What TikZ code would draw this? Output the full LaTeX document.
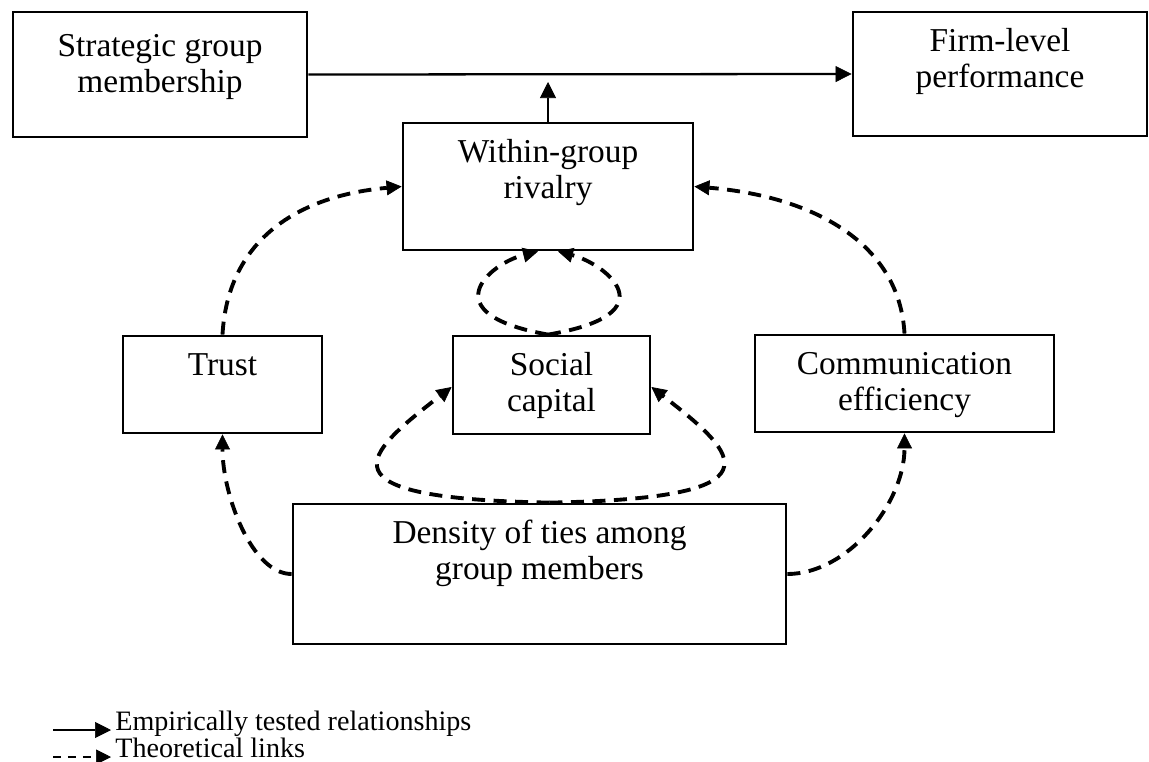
\documentclass[tikz,border=0pt]{standalone}
\usepackage{fontspec}
\setmainfont{Liberation Serif}
\usetikzlibrary{arrows.meta}
\newlength{\unitpx}
\setlength{\unitpx}{0.02cm}
\newcommand{\blocktext}[4][39]{\parbox[c][#3\unitpx][t]{#2\unitpx}{\centering\rule{0pt}{#1\unitpx}#4}}

\begin{document}
\begin{tikzpicture}
	[x=0.02cm,y=-0.02cm,
	blk/.style={draw, line width=1.6pt, inner sep=0pt, font=\fontsize{19}{21}\selectfont},
	legtext/.style={inner sep=0pt, font=\fontsize{16}{18}\selectfont}]
	\tikzstyle{solidarrow} = [line width=1.3pt, -{Triangle[length=0.32cm,width=0.32cm,line width=0.4pt]}];
	\tikzstyle{dasharrow} = [line width=2.2pt, dash pattern=on 0.26cm off 0.17cm, -{Triangle[length=0.3cm,width=0.3cm,line width=0.4pt]}];
	\tikzstyle{legdash} = [line width=1.3pt, dash pattern=on 0.16cm off 0.14cm, -{Triangle[length=0.3cm,width=0.3cm,line width=0.4pt]}];

	\useasboundingbox (0,0) rectangle (1149,761);

	\node[blk] (strat) at (160,74.5) {\blocktext[44]{294}{125}{Strategic group\\membership}};
	\node[blk] (firm) at (1000,74) {\blocktext{294}{124}{Firm-level\\performance}};
	\node[blk] (rival) at (548,186.5) {\blocktext{290}{127}{Within-group\\rivalry}};
	\node[blk] (trust) at (222.5,384.5) {\blocktext{199}{97}{Trust}};
	\node[blk] (social) at (551.5,385) {\blocktext{197}{98}{Social\\capital}};
	\node[blk] (comm) at (904.5,383.5) {\blocktext{299}{97}{Communication\\efficiency}};
	\node[blk] (dens) at (539.5,574) {\blocktext{493}{140}{Density of ties among\\group members}};

	% empirically tested
	\coordinate (uptip) at (548,82);
	\draw[solidarrow] (strat.east) -- (firm.west);
	\draw[solidarrow] (rival.north) -- (uptip);

	% theoretical links
	\draw[dasharrow] (trust.north) .. controls +(5,-90) and +(-110,10) .. (rival.west);
	\draw[dasharrow] (comm.north) .. controls +(-5,-90) and +(120,10) .. (rival.east);
	\draw[dasharrow] (dens.west) .. controls +(-40,0) and +(0,60) .. (trust.south);
	\draw[dasharrow] (dens.east) .. controls +(60,0) and +(0,70) .. (comm.south);
	\draw[dasharrow] ([xshift=0.2cm]dens.north) .. controls +(-235,-4) and +(-88,68) .. ([yshift=-0.04cm]social.west);
	\draw[dasharrow] ([xshift=0.2cm]dens.north) .. controls +(235,-4) and +(88,68) .. ([yshift=-0.04cm]social.east);
	\draw[dasharrow] ([xshift=-0.07cm]social.north) .. controls +(-118,-21) and +(-48,12) .. ([xshift=-0.2cm]rival.south);
	\draw[dasharrow] ([xshift=-0.07cm]social.north) .. controls +(124,-21) and +(46,12) .. ([xshift=0.2cm]rival.south);

	% legend
	\coordinate (ls1) at (53,730);
	\coordinate (ls2) at (111,730);
	\coordinate (ld1) at (53,757);
	\coordinate (ld2) at (111,757);
	\draw[solidarrow] (ls1) -- (ls2);
	\draw[legdash] (ld1) -- (ld2);
	\node[legtext, anchor=base west] (lemp) at (115,730.5) {Empirically tested relationships};
	\node[legtext, anchor=base west] (ltheo) at (115,757) {Theoretical links};
\end{tikzpicture}
\end{document}
